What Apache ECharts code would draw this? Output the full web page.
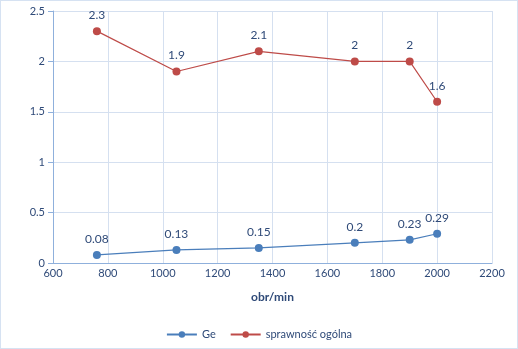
<!DOCTYPE html>
<html>
<head>
<meta charset="utf-8">
<script src="https://cdn.jsdelivr.net/npm/echarts@6/dist/echarts.min.js"></script>
<style>
  html, body { margin: 0; padding: 0; background: #fff; }
  #chart { width: 518px; height: 349px; box-sizing: border-box; border: 1px solid #d6e2f2; }
</style>
</head>
<body>
<div id="chart"></div>
<script>
// Rotational speed (obr/min) and measured values
const speeds = [760, 1050, 1350, 1700, 1900, 2000];
const geValues = [0.08, 0.13, 0.15, 0.2, 0.23, 0.29];
const efficiencyValues = [2.3, 1.9, 2.1, 2, 2, 1.6];
const seriesNames = ['Ge', 'sprawność ogólna'];
const xAxisTitle = 'obr/min';

const textColor = '#2f4a78';
const gridColor = '#d5e0f0';
const axisColor = '#8fb0dc';

const pairs = (xs, ys) => xs.map((x, i) => [x, ys[i]]);

const chart = echarts.init(document.getElementById('chart'), null, { renderer: 'canvas' });

function makeSeries(name, values, color) {
  return {
    name: name,
    type: 'line',
    data: pairs(speeds, values),
    symbol: 'circle',
    symbolSize: 8,
    itemStyle: { color: color },
    lineStyle: { color: color, width: 1.2 },
    label: {
      show: true,
      position: 'top',
      distance: 6,
      color: textColor,
      fontFamily: 'Lato',
      fontSize: 12
    },
    animation: false
  };
}

chart.setOption({
  animation: false,
  textStyle: { fontFamily: 'Lato' },
  grid: { left: 52, right: 25, top: 10, bottom: 85 },
  xAxis: {
    type: 'value',
    min: 600,
    max: 2200,
    interval: 200,
    name: xAxisTitle,
    nameLocation: 'middle',
    nameGap: 28,
    nameTextStyle: { color: textColor, fontWeight: 'bold', fontSize: 12, fontFamily: 'Lato' },
    axisLine: { show: true, lineStyle: { color: axisColor } },
    axisTick: { show: false },
    axisLabel: { color: textColor, fontSize: 11, fontFamily: 'Lato', margin: 5, formatter: v => String(v) },
    splitLine: { show: true, lineStyle: { color: gridColor } }
  },
  yAxis: {
    type: 'value',
    min: 0,
    max: 2.5,
    interval: 0.5,
    axisLine: { show: true, lineStyle: { color: axisColor } },
    axisTick: { show: true, length: 5, inside: false, lineStyle: { color: axisColor } },
    axisLabel: { color: textColor, fontSize: 11, fontFamily: 'Lato', margin: 8 },
    splitLine: { show: true, lineStyle: { color: gridColor } }
  },
  legend: {
    bottom: 3,
    left: 'center',
    itemWidth: 30,
    itemHeight: 8,
    itemGap: 14,
    textStyle: { color: textColor, fontSize: 11, fontFamily: 'Lato' },
    data: seriesNames
  },
  series: [
    makeSeries(seriesNames[0], geValues, '#4a7ebb'),
    makeSeries(seriesNames[1], efficiencyValues, '#be4b48')
  ]
});
</script>
</body>
</html>
